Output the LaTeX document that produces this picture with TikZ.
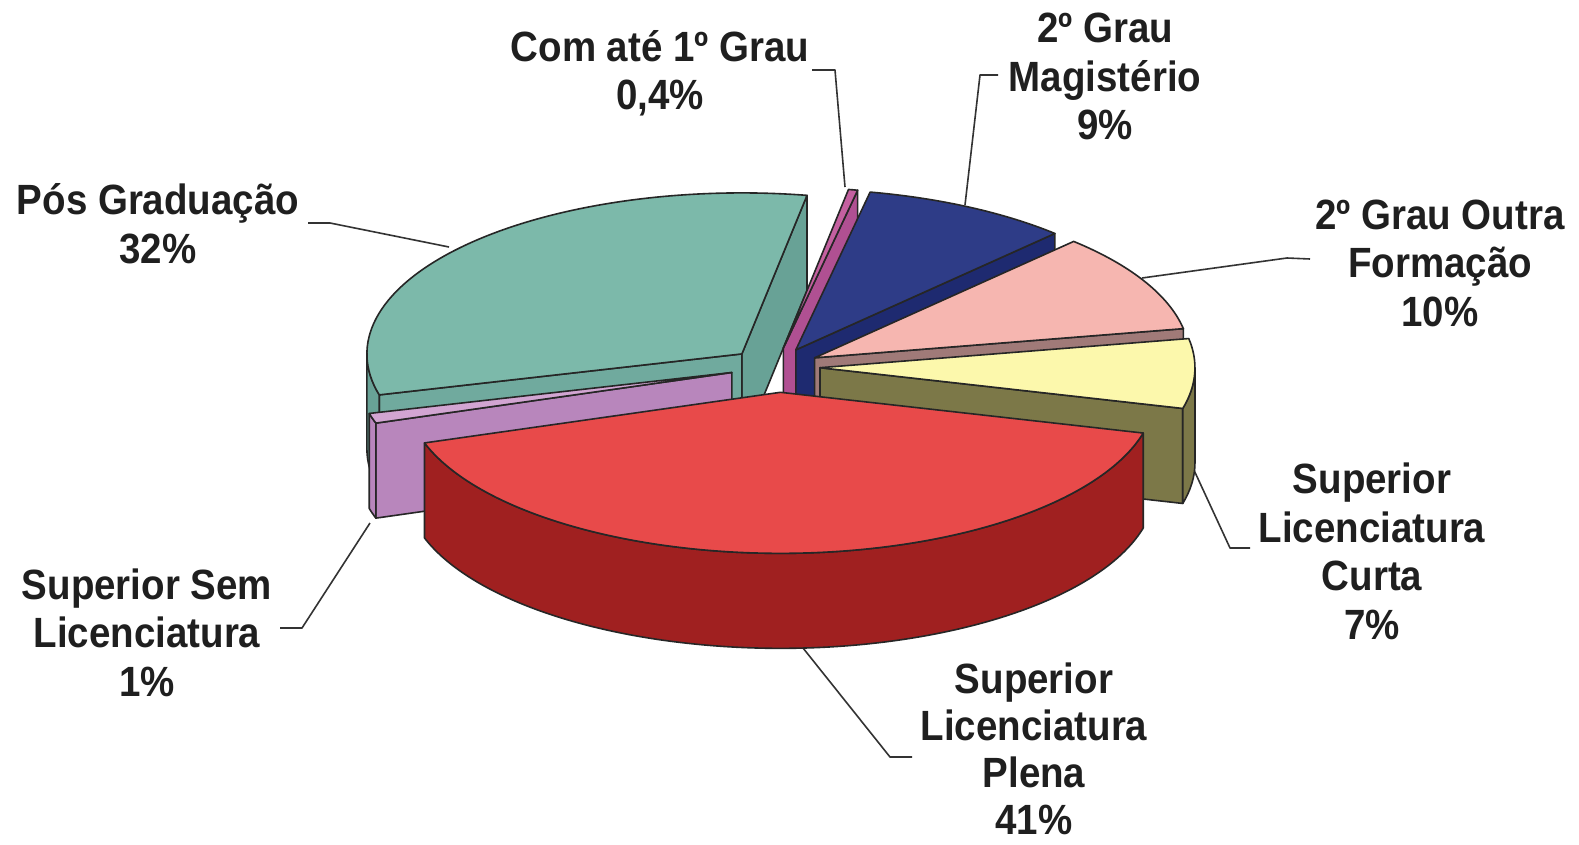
\documentclass[tikz,border=0pt]{standalone}
\usepackage{fontspec}
\newfontfamily\lblfont{Liberation Sans}[FakeStretch=0.91]
\definecolor{tealtop}{RGB}{124,185,170}
\definecolor{tealside}{RGB}{104,162,150}
\definecolor{tealface}{RGB}{112,170,158}
\definecolor{sltop}{RGB}{196,96,160}
\definecolor{slface}{RGB}{176,80,146}
\definecolor{bltop}{RGB}{46,60,135}
\definecolor{blface}{RGB}{30,42,112}
\definecolor{pktop}{RGB}{246,182,176}
\definecolor{pkface}{RGB}{160,122,120}
\definecolor{yetop}{RGB}{252,248,172}
\definecolor{yeface}{RGB}{124,120,72}
\definecolor{putop}{RGB}{210,165,210}
\definecolor{puface}{RGB}{184,134,188}
\definecolor{rdtop}{RGB}{232,74,74}
\definecolor{rdside}{RGB}{160,32,32}
\newcommand\pieApex[3]{%
  \pgfmathsetmacro\mA{(#2+#3)/2}%
  \coordinate (#1) at ({775+45*cos(\mA)},{-367+45*0.4293*sin(\mA)});}
\newcommand\pieTop[4]{%
  \filldraw[edge, fill=#4] (#1) -- ++(#2:375 and 161) arc[start angle=#2, end angle=#3, x radius=375, y radius=161] -- cycle;}
\newcommand\pieRad[3]{%
  \filldraw[edge, fill=#3] (#1) -- ++(#2:375 and 161) -- ++(0,-95) -- ++({-375*cos(#2)},{-161*sin(#2)}) -- cycle;}
\newcommand\pieWall[4]{%
  \filldraw[edge, fill=#4] (#1) ++(#2:375 and 161) arc[start angle=#2, end angle=#3, x radius=375, y radius=161] -- ++(0,-95) arc[start angle=#3, end angle=#2, x radius=375, y radius=161] -- cycle;}
\begin{document}
\begin{tikzpicture}[x=1pt,y=1pt,
  edge/.style={draw=black!85, line width=1.6pt, line join=round},
  lead/.style={draw=black!80, line width=1.6pt, line join=round},
  lbl/.style={font=\lblfont\bfseries\fontsize{42.3}{48.5}\selectfont, text=black!88, align=center, inner sep=0pt, anchor=base}]
\useasboundingbox (0,0) rectangle (1579,-845);
\fill[white] (0,0) rectangle (1579,-845);

% labels (anchor = baseline of last line)
\node[lbl] (lcom) at (660,-110) {Com até 1º Grau\\0,4\%};
\node[lbl] (lmag) at (1105,-140) {2º Grau\\Magistério\\9\%};
\node[lbl] (lpos) at (158,-263) {Pós Graduação\\32\%};
\node[lbl] (lout) at (1440,-326) {2º Grau Outra\\Formação\\10\%};
\node[lbl] (lcur) at (1372,-639) {Superior\\Licenciatura\\Curta\\7\%};
\node[lbl] (lsem) at (147,-696) {Superior Sem\\Licenciatura\\1\%};
\node[lbl, font=\lblfont\bfseries\fontsize{42.3}{47}\selectfont] (lple) at (1034,-834) {Superior\\Licenciatura\\Plena\\41\%};

% leader lines
\coordinate (c1a) at (812,-70); \coordinate (c1b) at (835,-70); \coordinate (c1c) at (845,-187);
\coordinate (c2a) at (998,-75); \coordinate (c2b) at (980,-75); \coordinate (c2c) at (965,-205);
\coordinate (c3a) at (308,-223); \coordinate (c3b) at (330,-223); \coordinate (c3c) at (449,-247);
\coordinate (c4a) at (1310,-259); \coordinate (c4b) at (1287,-258); \coordinate (c4c) at (1142,-278);
\coordinate (c5a) at (1250,-548); \coordinate (c5b) at (1230,-548); \coordinate (c5c) at (1193,-468);
\coordinate (c6a) at (912,-757); \coordinate (c6b) at (890,-757); \coordinate (c6c) at (803,-648);
\coordinate (c7a) at (280,-628); \coordinate (c7b) at (302,-628); \coordinate (c7c) at (370,-523);
\draw[lead] (c1a) -- (c1b) -- (c1c);
\draw[lead] (c2a) -- (c2b) -- (c2c);
\draw[lead] (c3a) -- (c3b) -- (c3c);
\draw[lead] (c4a) -- (c4b) -- (c4c);
\draw[lead] (c5a) -- (c5b) -- (c5c);
\draw[lead] (c6a) -- (c6b) -- (c6c);
\draw[lead] (c7a) -- (c7b) -- (c7c);

% apexes
\pieApex{te}{80}{194.74}
\pieApex{sl}{78.57}{80}
\pieApex{bl}{46.30}{78.57}
\pieApex{pk}{10.44}{46.30}
\pieApex{ye}{345.34}{370.44}
\pieApex{pu}{194.74}{198.33}
\pieApex{rd0}{198.33}{345.34}
\coordinate (rd) at ([shift={(4,-6)}]rd0);

% teal
\pieRad{te}{80}{tealside}
\pieRad{te}{194.74}{tealface}
\pieWall{te}{180}{194.74}{tealside}
\pieTop{te}{80}{194.74}{tealtop}
% sliver
\pieRad{sl}{78.57}{slface}
\pieTop{sl}{78.57}{80}{sltop}
% blue
\pieRad{bl}{46.30}{blface}
\pieTop{bl}{46.30}{78.57}{bltop}
% pink
\pieRad{pk}{10.44}{pkface}
\pieTop{pk}{10.44}{46.30}{pktop}
% yellow
\pieRad{ye}{345.34}{yeface}
\pieWall{ye}{345.34}{360}{yeface}
\pieTop{ye}{345.34}{370.44}{yetop}
% purple
\pieRad{pu}{198.33}{puface}
\pieWall{pu}{194.74}{198.33}{puface}
\pieTop{pu}{194.74}{198.33}{putop}
% red
\pieWall{rd}{198.33}{345.34}{rdside}
\pieTop{rd}{198.33}{345.34}{rdtop}
\end{tikzpicture}
\end{document}
